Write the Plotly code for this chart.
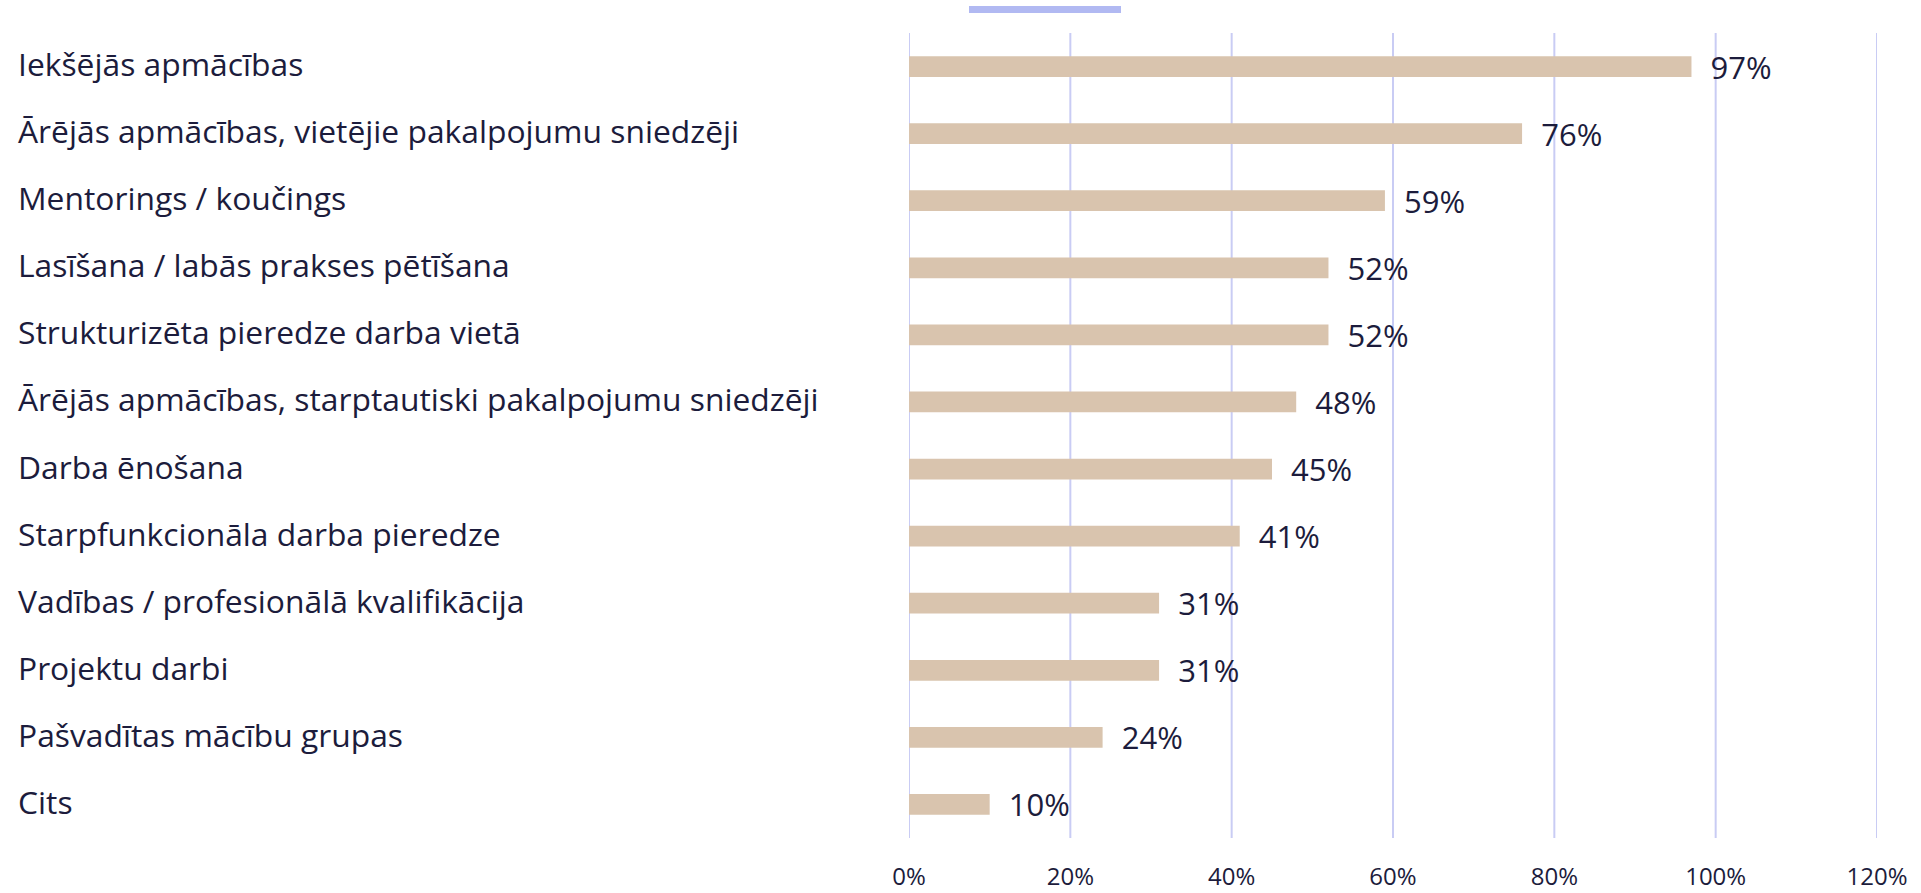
import plotly.graph_objects as go

categories = [
    "Iekšējās apmācības",
    "Ārējās apmācības, vietējie pakalpojumu sniedzēji",
    "Mentorings / koučings",
    "Lasīšana / labās prakses pētīšana",
    "Strukturizēta pieredze darba vietā",
    "Ārējās apmācības, starptautiski pakalpojumu sniedzēji",
    "Darba ēnošana",
    "Starpfunkcionāla darba pieredze",
    "Vadības / profesionālā kvalifikācija",
    "Projektu darbi",
    "Pašvadītas mācību grupas",
    "Cits",
]
values = [0.97, 0.76, 0.59, 0.52, 0.52, 0.48, 0.45, 0.41, 0.31, 0.31, 0.24, 0.10]
tick_vals = [0, 0.2, 0.4, 0.6, 0.8, 1.0, 1.2]
tick_text = ["0%", "20%", "40%", "60%", "80%", "100%", "120%"]

FONT = "Open Sans"
TEXT = "#1c1c3c"
BAR = "#d9c4ae"
GRID = "#c9ccf4"

W, H = 1921, 893
L, R, T, B = 909, 44, 33, 55
pw = W - L - R
ph = H - T - B

fig = go.Figure()
fig.add_trace(go.Bar(
    y=categories, x=values, orientation="h",
    marker=dict(color=BAR, line=dict(width=0)),
    width=0.31,
    text=["\u00a0\u00a0" + f"{round(v*100)}%" for v in values],
    textposition="outside",
    constraintext="none",
    textfont=dict(family=FONT, size=31, color=TEXT),
    cliponaxis=False,
    hoverinfo="skip",
))

for c in categories:
    fig.add_annotation(
        x=(16 - L) / pw, xref="paper", y=c, yref="y",
        text=c, showarrow=False, xanchor="left", yanchor="middle",
        yshift=3,
        font=dict(family=FONT, size=31.8, color=TEXT),
    )

for v in tick_vals:
    fig.add_shape(type="line", xref="x", yref="paper", x0=v, x1=v, y0=0, y1=1,
                  line=dict(color=GRID, width=2), layer="below")

fig.add_shape(type="rect", xref="paper", yref="paper",
              x0=(969 - L) / pw, x1=(1121 - L) / pw,
              y0=1 + (T - 13) / ph, y1=1 + (T - 6) / ph,
              fillcolor="#b1b9f2", line=dict(width=0))

fig.update_layout(
    width=W, height=H,
    margin=dict(l=L, r=R, t=T, b=B, autoexpand=False),
    plot_bgcolor="white", paper_bgcolor="white",
    showlegend=False,
    xaxis=dict(range=[0, 1.2], tickvals=tick_vals, ticktext=tick_text,
               showgrid=False, zeroline=False, showline=False, automargin=False,
               ticks="outside", ticklen=17, tickcolor="rgba(0,0,0,0)",
               tickfont=dict(family=FONT, size=24, color=TEXT)),
    yaxis=dict(autorange="reversed", showticklabels=False, showgrid=False,
               zeroline=False, showline=False, ticks="", automargin=False),
)

fig.write_html("out.html", config={"displayModeBar": False},
               post_script="document.body.style.margin='0';")
